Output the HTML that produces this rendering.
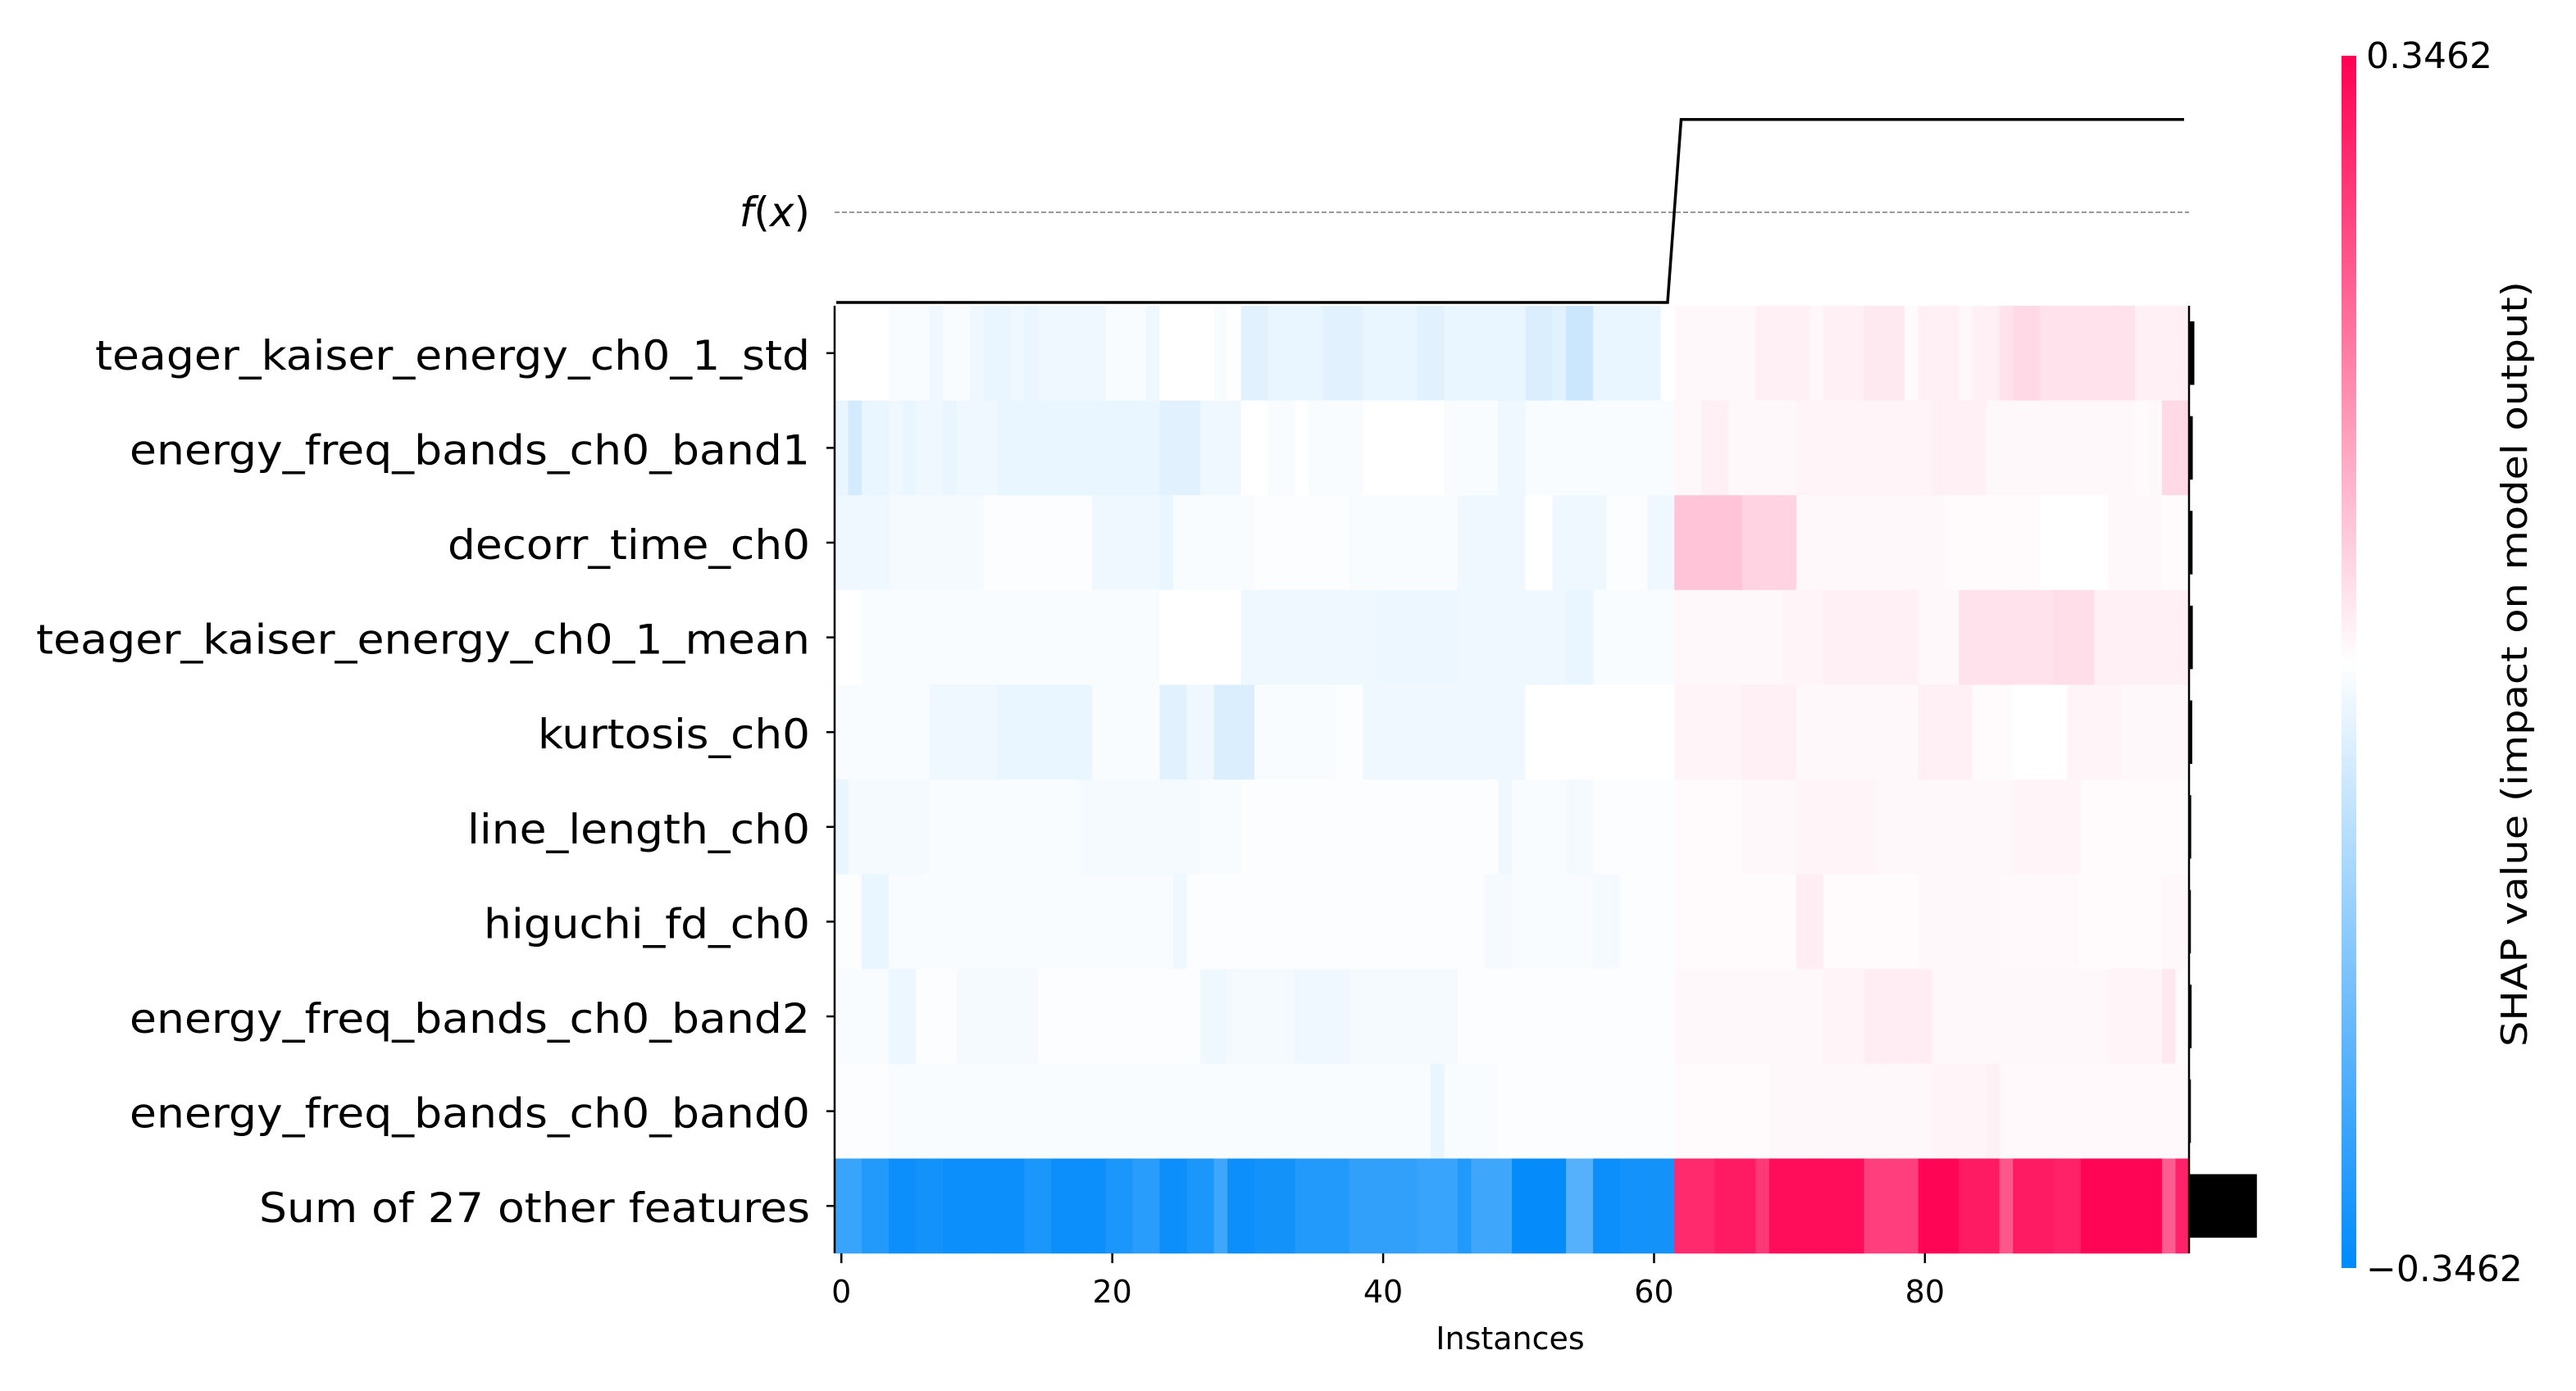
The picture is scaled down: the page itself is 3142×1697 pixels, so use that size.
<!DOCTYPE html>
<html><head><meta charset="utf-8"><style>
html,body{margin:0;padding:0;background:#fff;}
svg{display:block;font-family:"DejaVu Sans","Liberation Sans",sans-serif;}
</style></head><body>
<svg id="chart" width="3142" height="1697" viewBox="0 0 3142 1697" xmlns="http://www.w3.org/2000/svg">
<g id="cells"></g>
<g id="fx"></g>
<g id="axes"></g>
<g id="bars"></g>
<g id="cbar"></g>
</svg>
<script>
const features = ["teager_kaiser_energy_ch0_1_std","energy_freq_bands_ch0_band1","decorr_time_ch0","teager_kaiser_energy_ch0_1_mean","kurtosis_ch0","line_length_ch0","higuchi_fd_ch0","energy_freq_bands_ch0_band2","energy_freq_bands_ch0_band0","Sum of 27 other features"];
const labelWidths = [872,830,442,944,332,418,398,830,830,672];
// SHAP values in hundredths, 100 instances per feature
const row0 = [0,0,0,0,-1,-1,-1,-2,-1,-1,-2,-3,-3,-2,-3,-2,-2,-2,-2,-2,-1,-1,-1,-2,0,0,0,0,-1,0,-4,-4,-3,-3,-3,-3,-4,-4,-4,-3,-3,-3,-3,-4,-4,-3,-3,-3,-3,-3,-3,-5,-5,-4,-7,-7,-3,-3,-3,-3,-3,0,1,1,1,1,1,1,2,2,2,2,1,2,2,2,3,3,3,0.5,2,2,2,1,2,2,4,5,5,4,4,4,4,4,4,4,2,2,2,2];
const row1 = [-3,-6,-3,-3,-2,-3,-2,-2,-3,-2,-2,-2,-3,-3,-3,-3,-3,-3,-3,-3,-3,-3,-3,-3,-4,-4,-4,-2,-2,-2,0,0,-1,-1,0,-1,-1,-1,-1,0,0,0,0,0,0,-1,-1,-1,-1,-2,-2,-1,-1,-1,-1,-1,-1,-1,-1,-1,-1,-1,1,1,2,2,1,1,1,1,1,1.5,1.5,1.5,1.5,1.5,1.5,1.5,1.5,1.5,1.5,2,2,2,2,1,1,1,1,1,1,1,1,1,1,1,0.5,1,5,5];
const row2 = [-2,-2,-2,-2,-1.5,-1.5,-1.5,-1.5,-1.5,-1.5,-1.5,-0.5,-0.5,-0.5,-0.5,-0.5,-0.5,-0.5,-0.5,-2,-2,-2,-2,-2,-3,-1,-1,-1,-1,-1,-1,-0.5,-0.5,-0.5,-0.5,-0.5,-0.5,-0.5,-1,-1,-1,-1,-1,-1,-1,-1,-2,-2,-2,-2,-2,0,0,-2,-2,-2,-2,-0.5,-0.5,-0.5,-2,-2,8,8,8,8,8,6,6,6,6,1,1,1,1,1,1,1,1,1,1,1,0.5,0.5,0.5,0.5,0.5,0.5,0.5,0,0,0,0,0,1,1,1,1,0.5,0.5];
const row3 = [0,0,-1,-1,-1,-1,-1,-1,-1,-1,-1,-1,-1,-1,-1,-1,-1,-1,-1,-1,-1,-1,-1,-1,0,0,0,0,0,0,-2,-2,-2,-2,-2,-2,-2,-2,-2,-2,-2.5,-2.5,-2.5,-2.5,-2.5,-2.5,-2,-2,-2,-2,-2,-2,-2,-2,-3,-3,-1,-1,-1,-1,-1,-1,1,1,1,1,1,1,1,1,1.5,1.5,1.5,2,2,2,2,2,2,2,1,1,1,4,4,4,4,4,4,4,4.5,4.5,4.5,2,2,2,2,2,2,2];
const row4 = [-1,-1,-1,-1,-1,-1,-1,-2,-2,-2,-2,-2,-3,-3,-3,-3,-3,-3,-3,-1,-1,-1,-1,-1,-4,-4,-2,-2,-5,-5,-5,-1,-1,-1,-1,-1,-1,-0.5,-0.5,-2,-2,-2,-2,-2,-2,-2,-2,-2,-2,-2,-2,0,0,0,0,0,0,0,0,0,0,0,1.5,1.5,1.5,1.5,1.5,2,2,2,2,1,1,1,1,1,1,1,1,1,2,2,2,2,0.5,0.5,0.5,0,0,0,0,1.5,1.5,1.5,1.5,1,1,1,1,1];
const row5 = [-3,-1.5,-1.5,-1.5,-1.5,-1.5,-1.5,-1,-1,-1,-1,-1,-1,-1,-1,-1,-1,-1,-1.5,-1.5,-1.5,-1.5,-1.5,-1.5,-1.5,-1.5,-1.5,-1,-1,-1,-0.5,-0.5,-0.5,-0.5,-0.5,-0.5,-0.5,-0.5,-0.5,-0.5,-0.5,-0.5,-0.5,-0.5,-0.5,-0.5,-0.5,-0.5,-0.5,-2,-1,-1,-1,-1,-1.5,-1.5,-0.5,-0.5,-0.5,-0.5,-0.5,-0.5,0.5,0.5,0.5,0.5,0.5,1,1,1,1,1.5,1.5,1.5,1.5,1.5,1.5,1,1,1,1,1,1,1,1,1,1,1.5,1.5,1.5,1.5,1.5,0.5,0.5,0.5,0.5,0.5,0.5,0.5,0.5];
const row6 = [-0.5,-0.5,-3,-3,-1,-1,-1,-1,-1,-1,-1,-1,-1,-1,-1,-1,-1,-1,-1,-1,-1,-1,-1,-1,-1,-2,-0.5,-0.5,-0.5,-0.5,-0.5,-0.5,-0.5,-0.5,-0.5,-0.5,-0.5,-0.5,-0.5,-0.5,-0.5,-0.5,-0.5,-0.5,-0.5,-0.5,-0.5,-0.5,-1.5,-1.5,-1,-1,-1,-1,-1,-1,-1.5,-1.5,-0.5,-0.5,-0.5,-0.5,0.5,0.5,0.5,0.5,0.5,0.5,0.5,0.5,0.5,2.5,2.5,0.5,0.5,0.5,0.5,0.5,0.5,0.5,1,1,1,1,1,1,0.8,0.8,0.8,0.8,0.8,0.8,0.5,0.5,0.5,0.5,0.5,0.5,1,1];
const row7 = [-1,-1,-1,-1,-2.5,-2.5,-0.5,-0.5,-0.5,-1.5,-1.5,-1.5,-1.5,-1.5,-1.5,-0.5,-0.5,-0.5,-0.5,-0.5,-0.5,-0.5,-0.5,-0.5,-0.5,-0.5,-0.5,-2,-2,-1.5,-1.5,-1.5,-1.5,-1.5,-2,-2,-2,-2,-1.5,-1.5,-1.5,-1.5,-1.5,-1.5,-1.5,-1.5,-0.5,-0.5,-0.5,-0.5,-0.5,-0.5,-0.5,-0.5,-0.5,-0.5,-0.5,-0.5,-0.5,-0.5,-0.5,-0.5,1,1,1,1,1,1,1,1,1,1,1,1.5,1.5,1.5,2.5,2.5,2.5,2.5,2.5,1,1,1,1,1,1,1,1,1,1,1,1,1,1.5,1.5,1.5,1.5,3,0.5];
const row8 = [-0.5,-0.5,-0.5,-0.5,-1,-1,-1,-1,-1,-1,-1,-1,-1,-1,-1,-0.8,-0.8,-0.8,-0.8,-0.8,-0.8,-0.8,-0.8,-0.8,-0.8,-0.8,-0.8,-0.8,-0.8,-0.8,-0.8,-0.8,-0.8,-0.8,-0.8,-0.8,-0.8,-0.8,-0.8,-0.8,-0.8,-0.8,-0.8,-0.8,-3,-1,-1,-1,-1,-0.5,-0.5,-0.5,-0.5,-0.5,-0.5,-0.5,-0.5,-0.5,-0.5,-0.5,-0.5,-0.5,0.5,0.5,0.5,0.5,0.5,0.5,0.5,1,1,1,1,1,1,1,1,1,1,1,1,1.5,1.5,1.5,1.5,2,0.8,0.8,0.8,0.8,0.8,0.8,0.8,0.8,0.8,0.8,0.8,0.8,0.8,0.8];
const row9 = [-27,-27,-30,-30,-33,-33,-32,-32,-33,-33,-33,-33,-33,-33,-31,-31,-33,-33,-33,-33,-31,-31,-29,-29,-33,-33,-31,-31,-26,-33,-33,-32,-32,-32,-30,-30,-30,-30,-28,-28,-28,-28,-28,-27,-27,-27,-30,-26,-26,-26,-34,-34,-34,-34,-23,-23,-33,-33,-32,-32,-32,-32,29,29,29,31,31,31,27,33,33,33,33,33,33,33,26,26,26,26,34,34,34,31,31,31,23,31,31,31,30,30,34,34,34,34,34,34,22,30];
const shapRows = [row0,row1,row2,row3,row4,row5,row6,row7,row8,row9];
const fxValues = [];
const fxLow = -1.0, fxHigh = 1.03;
const xTicks = [0,20,40,60,80];
const cbarTicks = ["0.3462","\u22120.3462"];
const vmax = 0.3462;
</script>
<script>
for (let i=0;i<100;i++) fxValues.push(i<62?fxLow:fxHigh);
const NS="http://www.w3.org/2000/svg";
const L=1018, R=2670, T=373, B=1529, N=100;
const cw=(R-L)/N, rh=(B-T)/features.length;
const xs=v=>L+(v+0.5)*cw;
const ys=i=>T+i*rh;
const fy=v=>259-v*110;
function mk(tag,attrs,parent){const e=document.createElementNS(NS,tag);for(const k in attrs)e.setAttribute(k,attrs[k]);parent.appendChild(e);return e;}
function color(v){let t=Math.max(-1,Math.min(1,v/vmax));
 let c0=[255,255,255],c1=t<0?[0,138,250]:[255,0,82];t=Math.abs(t);
 return `rgb(${c0.map((c,k)=>Math.round(c+(c1[k]-c)*t)).join(',')})`;}
const cells=document.getElementById('cells');
shapRows.forEach((row,r)=>{row.forEach((v,i)=>{
 const e=mk('rect',{x:xs(i)-cw/2,y:ys(r),width:cw+0.6,height:rh+0.3,fill:color(v*0.01)},cells);
 
 
});});
const ax=document.getElementById('axes');
let s=mk('line',{x1:L,y1:T,x2:L,y2:B,stroke:'#000','stroke-width':2.5},ax);

s=mk('line',{x1:R,y1:T,x2:R,y2:B,stroke:'#000','stroke-width':2.5},ax);

features.forEach((f,r)=>{
 const cy=ys(r)+rh/2;
 mk('line',{x1:L-10,y1:cy,x2:L,y2:cy,stroke:'#000','stroke-width':2.5},ax);
 const t=mk('text',{x:988,y:cy+20,'text-anchor':'end','font-size':50,textLength:labelWidths[r],lengthAdjust:'spacingAndGlyphs',fill:'#000'},ax);
 t.textContent=f;
 
 
});
xTicks.forEach(v=>{
 mk('line',{x1:xs(v),y1:B,x2:xs(v),y2:B+12,stroke:'#000','stroke-width':2.5},ax);
 const t=mk('text',{x:xs(v),y:B+60,'text-anchor':'middle','font-size':38,fill:'#000'},ax);
 t.textContent=v;
 
 
});
let xt=mk('text',{x:1842,y:1646,'text-anchor':'middle','font-size':38,fill:'#000'},ax);
xt.textContent='Instances';


const fx=document.getElementById('fx');
let bl=mk('line',{x1:L,y1:fy(0),x2:R,y2:fy(0),stroke:'#999','stroke-width':2,'stroke-dasharray':'6 3'},fx);

let pts=[[L+2,fy(fxValues[0])]];
fxValues.forEach((v,i)=>pts.push([xs(i),fy(v)]));
pts.push([R-6,fy(fxValues[N-1])]);
let pl=mk('polyline',{points:pts.map(p=>p.join(',')).join(' '),fill:'none',stroke:'#000','stroke-width':3.5},fx);

let fl=mk('text',{x:988,y:fy(0)+17,'text-anchor':'end','font-size':50,fill:'#000'},fx);
fl.innerHTML='<tspan font-style="italic">f</tspan>(<tspan font-style="italic">x</tspan>)';

const bars=document.getElementById('bars');
shapRows.forEach((row,r)=>{
 const m=row.reduce((a,v)=>a+Math.abs(v),0)/row.length*0.01;
 const h=rh*0.67;
 const e=mk('rect',{x:R,y:ys(r)+(rh-h)/2,width:m*270,height:h,fill:'#000'},bars);
 
 
});
const cb=document.getElementById('cbar');
const defs=mk('defs',{},cb);
const g=mk('linearGradient',{id:'cg',x1:0,y1:0,x2:0,y2:1},defs);
mk('stop',{offset:'0','stop-color':'rgb(255,0,82)'},g);
mk('stop',{offset:'0.5','stop-color':'#fff'},g);
mk('stop',{offset:'1','stop-color':'rgb(0,138,250)'},g);
let cr=mk('rect',{x:2856,y:68,width:18,height:1479,fill:'url(#cg)'},cb);

[[cbarTicks[0],83],[cbarTicks[1],1563]].forEach(([txt,y])=>{
 const t=mk('text',{x:2886,y:y,'font-size':44,fill:'#000'},cb);
 t.textContent=txt;
 
 
});
let ct=mk('text',{x:0,y:0,'text-anchor':'middle','font-size':44,textLength:934,lengthAdjust:'spacingAndGlyphs',fill:'#000',transform:'translate(3082,810) rotate(-90)'},cb);
ct.textContent='SHAP value (impact on model output)';

</script>
</body></html>
